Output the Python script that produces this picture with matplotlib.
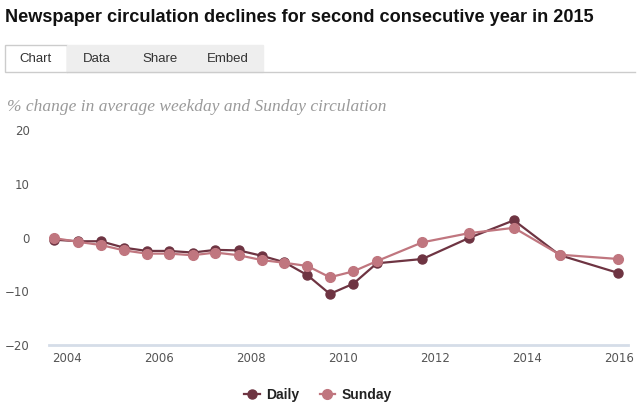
import matplotlib
matplotlib.use("Agg")
import matplotlib.pyplot as plt
from matplotlib.patches import Rectangle
from matplotlib.lines import Line2D

# data (ABC audit periods, year as decimal)
years = [2003.72, 2004.24, 2004.74, 2005.25, 2005.74, 2006.23, 2006.74, 2007.23,
         2007.74, 2008.24, 2008.73, 2009.23, 2009.72, 2010.23, 2010.74, 2011.73,
         2012.74, 2013.72, 2014.72, 2015.99]
daily = [-0.4, -0.7, -0.7, -1.9, -2.5, -2.5, -2.8, -2.3, -2.4, -3.4, -4.6, -7.0,
         -10.5, -8.6, -4.8, -4.0, -0.1, 3.2, -3.3, -6.6]
sunday = [-0.1, -0.8, -1.4, -2.4, -3.0, -3.0, -3.3, -2.8, -3.3, -4.2, -4.7, -5.3,
          -7.4, -6.3, -4.4, -0.9, 0.8, 1.8, -3.2, -4.0]
yticks = [-20, -10, 0, 10, 20]
xticks = [2004, 2006, 2008, 2010, 2012, 2014, 2016]
tabs = ["Chart", "Data", "Share", "Embed"]

title = "Newspaper circulation declines for second consecutive year in 2015"
subtitle = "% change in average weekday and Sunday circulation"

c_daily = "#6e3442"
c_sunday = "#c0767f"

W, H = 640, 418
fig = plt.figure(figsize=(W / 100, H / 100), dpi=100)

def fx(px):
    return px / W

def fy(py):
    return 1 - py / H

fig.text(fx(5), fy(18), title, fontsize=13.1, fontweight="bold",
         family="Liberation Sans", color="#111111", va="center", ha="left")

# tab strip
tab_x = [5, 67, 127, 193, 263]
for i, name in enumerate(tabs):
    x0, x1 = tab_x[i], tab_x[i + 1]
    face = "white" if i == 0 else "#eeeeee"
    edge = "#cccccc" if i == 0 else "#eeeeee"
    fig.add_artist(Rectangle((fx(x0), fy(72)), fx(x1 - x0), (72 - 45) / H,
                             facecolor=face, edgecolor=edge, lw=1,
                             transform=fig.transFigure))
    fig.text(fx((x0 + x1) / 2), fy(59), name, fontsize=9.5, color="#333333",
             ha="center", va="center", family="Liberation Sans")
fig.add_artist(Line2D([fx(67), fx(635)], [fy(72), fy(72)], color="#cccccc",
                      lw=1, transform=fig.transFigure))

fig.text(fx(7), fy(107), subtitle, fontsize=12.5, style="italic",
         family="Liberation Serif", color="#9a9a9a", va="center", ha="left")

ax = fig.add_axes([fx(49), fy(345), fx(628 - 49), (345 - 130) / H])
l1, = ax.plot(years, daily, color=c_daily, lw=1.6, marker="o", ms=6.5,
              label="Daily", zorder=3)
l2, = ax.plot(years, sunday, color=c_sunday, lw=1.6, marker="o", ms=7,
              label="Sunday", zorder=4)

ax.set_xlim(2003.615, 2016.2)
ax.set_ylim(-20, 20)
ax.set_yticks(yticks)
ax.set_xticks(xticks)
ax.set_yticks(yticks[1:], minor=True)
ax.grid(axis="y", which="minor", color="#cccccc", lw=0.8, ls=(0, (1, 3)), zorder=1)
for s in ["top", "right", "left"]:
    ax.spines[s].set_visible(False)
ax.spines["bottom"].set_color("#d5dde8")
ax.spines["bottom"].set_linewidth(2)
ax.tick_params(axis="both", which="both", length=0, labelsize=8.5, labelcolor="#555555")
ax.tick_params(axis="y", pad=14)
ax.tick_params(axis="x", pad=5)

leg = fig.legend(handles=[l1, l2], loc="center", bbox_to_anchor=(fx(318), fy(395)),
                 ncol=2, frameon=False, handlelength=1.1, columnspacing=1.5,
                 handletextpad=0.45,
                 prop={"weight": "bold", "size": 10, "family": "Liberation Sans"})
for t in leg.get_texts():
    t.set_color("#222222")

fig.savefig("out.png", dpi=100)
